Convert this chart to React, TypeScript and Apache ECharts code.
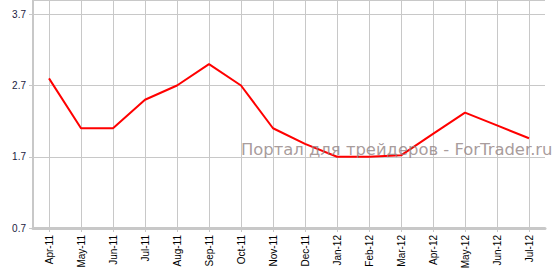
import React, { useEffect, useRef } from "react";
import * as echarts from "echarts";

const categories = [
  "Apr-11", "May-11", "Jun-11", "Jul-11", "Aug-11", "Sep-11", "Oct-11", "Nov-11",
  "Dec-11", "Jan-12", "Feb-12", "Mar-12", "Apr-12", "May-12", "Jun-12", "Jul-12",
];
const values = [2.8, 2.1, 2.1, 2.5, 2.7, 3.0, 2.7, 2.1, 1.88, 1.7, 1.7, 1.72, 2.02, 2.32, 2.14, 1.96];
const yMin = 0.7;
const yMax = 3.9;
const yInterval = 1;
const watermark = "Портал для трейдеров - ForTrader.ru";

export default function App() {
  const ref = useRef<HTMLDivElement>(null);
  useEffect(() => {
    if (!ref.current) return;
    const chart = echarts.init(ref.current, undefined, { renderer: "svg" });
    chart.setOption({
      animation: false,
      backgroundColor: "#ffffff",
      grid: { left: 33, right: 11, top: -2.4, bottom: 52, containLabel: false },
      xAxis: {
        type: "category",
        data: categories,
        boundaryGap: true,
        axisLine: { show: true, lineStyle: { color: "#c8c8c8", width: 3 } },
        axisTick: { show: true, alignWithLabel: true, length: 4, lineStyle: { color: "#c8c8c8" } },
        axisLabel: {
          rotate: 90,
          interval: 0,
          margin: 7,
          fontSize: 10,
          fontFamily: "Liberation Sans, Arial, sans-serif",
          color: "#000000",
        },
        splitLine: { show: true, alignWithLabel: true, lineStyle: { color: "#c8c8c8", width: 1 } },
      },
      yAxis: {
        type: "value",
        min: yMin,
        max: yMax,
        interval: yInterval,
        axisLine: { show: true, lineStyle: { color: "#c8c8c8", width: 2 } },
        axisTick: { show: true, length: 4, lineStyle: { color: "#c8c8c8" } },
        axisLabel: {
          showMaxLabel: false,
          margin: 7,
          fontSize: 10,
          fontFamily: "Liberation Sans, Arial, sans-serif",
          color: "#1a1a40",
          formatter: (v: number) => v.toFixed(1),
        },
        splitLine: { show: true, lineStyle: { color: "#c8c8c8", width: 1 } },
      },
      series: [
        {
          type: "line",
          data: values,
          showSymbol: false,
          symbol: "none",
          lineStyle: { color: "#ff0000", width: 2 },
          itemStyle: { color: "#ff0000" },
          z: 3,
        },
      ],
      graphic: [
        {
          type: "text",
          left: 241,
          top: 141,
          z: 10,
          style: {
            text: watermark,
            fontSize: 16.4,
            fontFamily: "DejaVu Sans, Verdana, sans-serif",
            fill: "rgba(145,130,130,0.8)",
          },
        },
      ],
    });
    return () => chart.dispose();
  }, []);
  return (
    <div
      ref={ref}
      style={{ position: "fixed", left: 0, top: 0, width: 556, height: 280 }}
    />
  );
}
